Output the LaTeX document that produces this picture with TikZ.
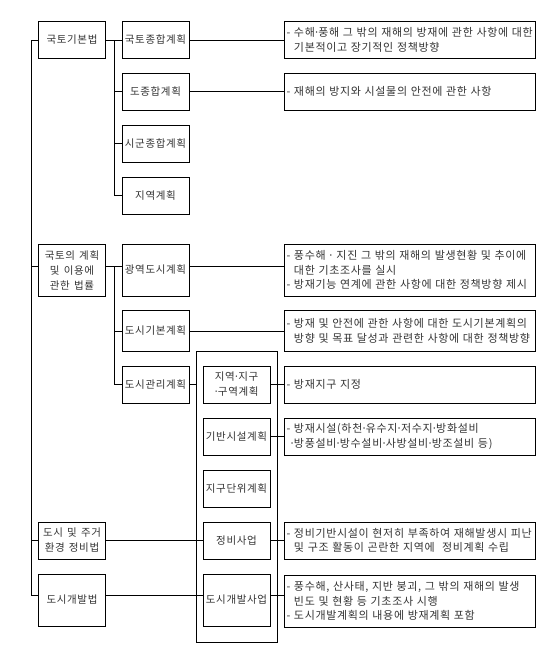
\documentclass[tikz,border=0pt]{standalone}
\usepackage{fontspec}
\setmainfont[LetterSpace=6, WordSpace=1.4]{Noto Sans CJK KR}
\newcommand{\hy}{\hskip1.5pt-\ }
\newcommand{\hyin}{\hphantom{\hy}}
\newcommand{\md}{\makebox[3.5pt]{·}}
\begin{document}
\begin{tikzpicture}[x=1pt, y=-1pt,
  box/.style={draw, line width=0.8pt, inner sep=0pt, minimum width=67pt, minimum height=37pt, align=center, font=\fontsize{10.5}{15}\selectfont, text=black!80},
  tallbox/.style={box, minimum height=52pt},
  note/.style={draw, line width=0.8pt, minimum height=37pt, text width=249pt, inner xsep=1pt, inner ysep=0pt, align=left, font=\fontsize{11}{14.5}\selectfont, text=black!80},
  link/.style={line width=0.8pt}]

\useasboundingbox (0,0) rectangle (542,645);

%% laws
\node[box] (gibon) at (72,40) {국토기본법};
\node[tallbox] (gyehoek) at (72,270) {국토의 계획\\및 이용에\\관한 법률};
\node[box] (jeongbi) at (72,540.5) {도시 및 주거\\환경 정비법};
\node[tallbox] (gaebal) at (72,600) {도시개발법};

%% plans
\node[box] (jonghap) at (155.5,40) {국토종합계획};
\node[box] (dojong) at (155.5,91.5) {도종합계획};
\node[box] (sigun) at (155.5,143.5) {시군종합계획};
\node[box] (jiyeok) at (155.5,195.5) {지역계획};
\node[tallbox] (gwangyeok) at (155.5,270) {광역도시계획};
\node[box, minimum height=41pt] (gibonplan) at (155.5,331) {도시기본계획};
\node[box] (gwanri) at (155.5,384.5) {도시관리계획};

%% urban management plan
\node[draw, line width=0.8pt, minimum width=81pt, minimum height=291pt] (frame) at (236.5,496.5) {};
\node[box] (jiguplan) at (236.5,384.5) {지역\md 지구\\\md 구역계획};
\node[box] (gibansisul) at (236.5,436.5) {기반시설계획};
\node[box] (jigudanwi) at (236.5,488.5) {지구단위계획};
\node[box] (jeongbisaup) at (236.5,540.5) {정비사업};
\node[tallbox] (gaebalsaup) at (236.5,600) {도시개발사업};

%% contents
\node[note] (d1) at (409.5,40) {\hy 수해\md 풍해 그 밖의 재해의 방재에 관한 사항에 대한\\\hyin 기본적이고 장기적인 정책방향};
\node[note] (d2) at (409.5,91.5) {\hy 재해의 방지와 시설물의 안전에 관한 사항};
\node[note, minimum height=52pt] (d3) at (409.5,270) {\hy 풍수해 \md\ 지진 그 밖의 재해의 발생현황 및 추이에\\\hyin 대한 기초조사를 실시\\\hy 방재기능 연계에 관한 사항에 대한 정책방향 제시};
\node[note, minimum height=41pt] (d4) at (409.5,331) {\hy 방재 및 안전에 관한 사항에 대한 도시기본계획의\\\hyin 방향 및 목표 달성과 관련한 사항에 대한 정책방향};
\node[note] (d5) at (409.5,384.5) {\hy 방재지구 지정};
\node[note] (d6) at (409.5,436.5) {\hy 방재시설(하천\md 유수지\md 저수지\md 방화설비\\\hyin\llap{\md}방풍설비\md 방수설비\md 사방설비\md 방조설비 등)};
\node[note] (d7) at (409.5,540.5) {\hy 정비기반시설이 현저히 부족하여 재해발생시 피난\\\hyin 및 구조 활동이 곤란한 지역에\ \ 정비계획 수립};
\node[note, minimum height=52pt] (d8) at (409.5,601) {\hy 풍수해, 산사태, 지반 붕괴, 그 밖의 재해의 발생\\\hyin 빈도 및 현황 등 기초조사 시행\\\hy 도시개발계획의 내용에 방재계획 포함};

%% trunks
\draw[link] (gibon.west) -- ++(-7,0) coordinate (trunkA) |- ([yshift=5pt]gaebal.west);
\draw[link] ([yshift=4pt]gyehoek.west) -- ([yshift=4pt]gyehoek.west -| trunkA);
\draw[link] (jeongbi.west) -- (jeongbi.west -| trunkA);

\draw[link] (gibon.east) -- (jonghap.west);
\draw[link] (jonghap.west) ++(-7,0) coordinate (trunkB) |- (jiyeok.west);
\draw[link] (dojong.west) -- (dojong.west -| trunkB);
\draw[link] (sigun.west) -- (sigun.west -| trunkB);

\draw[link] ([yshift=4pt]gyehoek.east) -- ([yshift=4pt]gwangyeok.west);
\draw[link] ([yshift=4pt]gwangyeok.west) ++(-7,0) coordinate (trunkC) |- (gwanri.west);
\draw[link] (gibonplan.west) -- (gibonplan.west -| trunkC);

\draw[link] (gwanri.east) -- (gwanri.east -| frame.west);
\draw[link] (jeongbi.east) -- (jeongbisaup.west);
\draw[link] ([yshift=5pt]gaebal.east) -- ([yshift=5pt]gaebalsaup.west);

%% to contents
\draw[link] (jonghap.east) -- (d1.west);
\draw[link] (dojong.east) -- (d2.west);
\draw[link] ([yshift=4pt]gwangyeok.east) -- ([yshift=4pt]d3.west);
\draw[link] (gibonplan.east) -- (d4.west);
\draw[link] (jiguplan.east) -- (d5.west);
\draw[link] (gibansisul.east) -- (d6.west);
\draw[link] (jeongbisaup.east) -- (d7.west);
\draw[link] ([yshift=5pt]gaebalsaup.east) -- ([yshift=6pt]d8.west);

\end{tikzpicture}
\end{document}
